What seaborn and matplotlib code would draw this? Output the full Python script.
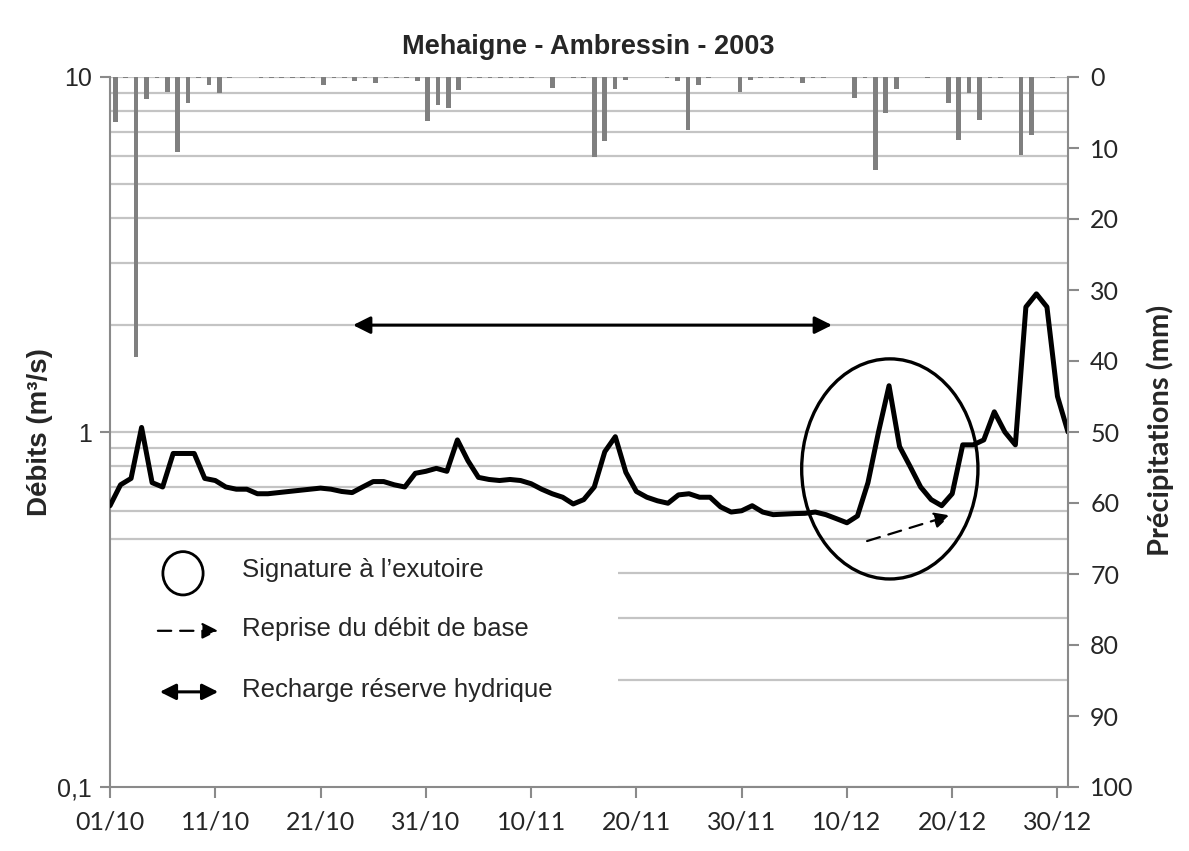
import numpy as np
import pandas as pd
import matplotlib
matplotlib.use('Agg')
import matplotlib.pyplot as plt
import matplotlib.dates as mdates
from matplotlib.patches import Ellipse, Rectangle
from matplotlib.ticker import LogLocator, NullFormatter, FixedLocator
import seaborn as sns

# Daily series 01/10/2003 -> 31/12/2003
dates = pd.date_range('2003-10-01', '2003-12-31', freq='D')

# Discharge at Ambressin (m3/s)
discharge = [0.62, 0.71, 0.74, 1.03, 0.72, 0.70, 0.87, 0.87, 0.87, 0.74,
             0.73, 0.70, 0.69, 0.69, 0.67, 0.67, 0.675, 0.68, 0.685, 0.69,
             0.695, 0.69, 0.68, 0.675, 0.70, 0.725, 0.725, 0.71, 0.70, 0.765,
             0.775, 0.79, 0.775, 0.95, 0.83, 0.745, 0.735, 0.73, 0.735, 0.73,
             0.715, 0.69, 0.67, 0.655, 0.627, 0.645, 0.70, 0.88, 0.97, 0.77,
             0.68, 0.655, 0.64, 0.63, 0.665, 0.67, 0.655, 0.655, 0.615, 0.595,
             0.60, 0.62, 0.595, 0.585, 0.587, 0.589, 0.59, 0.595, 0.585, 0.57,
             0.555, 0.58, 0.72, 1.0, 1.35, 0.91, 0.80, 0.70, 0.645, 0.62,
             0.67, 0.92, 0.92, 0.95, 1.14, 1.0, 0.92, 2.25, 2.45, 2.25,
             1.26, 1.0]

# Daily precipitation (mm)
precip = [6.3, 0.2, 39.4, 3.1, 0.2, 2.1, 10.5, 3.7, 0.2, 1.1,
          2.3, 0.2, 0, 0, 0.2, 0.2, 0.2, 0.2, 0.2, 0.2,
          1.1, 0.2, 0.2, 0.5, 0.2, 0.8, 0.2, 0.2, 0.2, 0.5,
          6.2, 3.9, 4.3, 1.8, 0.2, 0.2, 0.2, 0.2, 0.2, 0.2,
          0.2, 0, 1.5, 0, 0.2, 0.2, 11.2, 9.0, 1.7, 0.4,
          0, 0, 0, 0.2, 0.5, 7.5, 1.1, 0.2, 0, 0,
          2.1, 0.4, 0.2, 0.2, 0.2, 0.2, 0.8, 0.2, 0.2, 0,
          0, 2.9, 0.2, 13.1, 5.0, 1.7, 0, 0, 0.2, 0,
          3.6, 8.9, 2.3, 6.0, 0.2, 0.2, 0, 11.0, 8.2, 0,
          0.2, 0]

tick_dates = pd.date_range('2003-10-01', periods=10, freq='10D')
left_ticks = [0.1, 1, 10]
left_labels = ['0,1', '1', '10']
right_ticks = list(range(0, 101, 10))

title = 'Mehaigne - Ambressin - 2003'
legend_labels = ['Signature à l\u2019exutoire', 'Reprise du débit de base', 'Recharge réserve hydrique']

sns.set_style('white')
plt.rcParams['font.family'] = ['Liberation Sans', 'DejaVu Sans']

GRAY = '#8a8a8a'
GRID = '#c4c4c4'

fig = plt.figure(figsize=(11.89, 8.51), dpi=100)
ax = fig.add_axes([110 / 1189, 1 - 787 / 851, 958 / 1189, 710 / 851])

df = pd.DataFrame({'date': dates, 'q': discharge})
sns.lineplot(data=df, x='date', y='q', ax=ax, color='black', linewidth=3.6, zorder=3)
for ln in ax.get_lines():
    ln.set_solid_joinstyle('round')
    ln.set_solid_capstyle('round')

ax.set_yscale('log')
ax.set_ylim(0.1, 10)
ax.set_yticks(left_ticks)
ax.set_yticklabels(left_labels)
ax.yaxis.set_minor_locator(LogLocator(base=10, subs=np.arange(2, 10)))
ax.yaxis.set_minor_formatter(NullFormatter())
ax.set_axisbelow(True)
ax.grid(axis='y', which='both', color=GRID, linewidth=1.6)
ax.grid(axis='x', visible=False)
ax.set_xlim(dates[0], dates[-1])
ax.xaxis.set_major_locator(FixedLocator(mdates.date2num(tick_dates)))
ax.xaxis.set_major_formatter(mdates.DateFormatter('%d/%m'))
ax.set_xlabel('')
ax.set_ylabel('')
ax.tick_params(axis='y', which='major', left=True, length=7, width=1.5, color=GRAY,
               labelsize=18, pad=6)
ax.tick_params(axis='y', which='minor', length=0)
ax.tick_params(axis='x', bottom=True, length=8, width=1.5, color=GRAY,
               labelsize=18, labelfontfamily='Lato', pad=9)
for s in ['top', 'right']:
    ax.spines[s].set_visible(False)
for s in ['left', 'bottom']:
    ax.spines[s].set_color(GRAY)
    ax.spines[s].set_linewidth(1.5)

# legend area masks the grid
ax.add_patch(Rectangle((0, 0), 0.530, 0.338, transform=ax.transAxes,
                       facecolor='white', edgecolor='none', zorder=1.5))

# precipitation bars on a secondary category axis, hanging from the top
ax2 = fig.add_axes(ax.get_position())
ax2.patch.set_visible(False)
pdf = pd.DataFrame({'day': np.arange(len(precip)), 'p': precip})
sns.barplot(data=pdf, x='day', y='p', ax=ax2, color='#7f7f7f', saturation=1,
            width=0.45, linewidth=0)
ax2.set_ylim(100, 0)
ax2.set_xlim(-0.5, len(precip) - 0.5)
ax2.xaxis.set_visible(False)
ax2.yaxis.tick_right()
ax2.set_yticks(right_ticks)
ax2.set_ylabel('')
ax2.tick_params(axis='y', right=True, length=8, width=1.5, color=GRAY,
                labelsize=18, labelfontfamily='Lato', pad=8)
for s in ['top', 'left', 'bottom']:
    ax2.spines[s].set_visible(False)
ax2.spines['right'].set_color(GRAY)
ax2.spines['right'].set_linewidth(1.5)

# annotations on the hydrograph
ax.annotate('', xy=(pd.Timestamp('2003-12-08 14:00'), 2.0),
            xytext=(pd.Timestamp('2003-10-24 02:00'), 2.0),
            arrowprops=dict(arrowstyle='<|-|>', color='black', lw=2.2,
                            mutation_scale=26, shrinkA=0, shrinkB=0), zorder=4)
ax.annotate('', xy=(pd.Timestamp('2003-12-19 20:00'), 0.582),
            xytext=(pd.Timestamp('2003-12-11 22:00'), 0.493),
            arrowprops=dict(arrowstyle='-|>', color='black', lw=1.6, linestyle=(0, (6, 4)),
                            mutation_scale=24, shrinkA=0, shrinkB=0), zorder=4)
ax.add_patch(Ellipse((0.814, 0.448), 0.184, 0.310, transform=ax.transAxes,
                     fill=False, edgecolor='black', linewidth=2.4, zorder=4))

# hand-made legend
ax.add_patch(Ellipse((0.0762, 0.301), 0.042, 0.061, transform=ax.transAxes,
                     fill=False, edgecolor='black', linewidth=2.0, zorder=4))
ax.annotate('', xy=(0.113, 0.220), xytext=(0.050, 0.220), xycoords='axes fraction',
            arrowprops=dict(arrowstyle='-|>', color='black', lw=1.6, linestyle=(0, (6, 4)),
                            mutation_scale=24, shrinkA=0, shrinkB=0), zorder=4)
ax.annotate('', xy=(0.113, 0.134), xytext=(0.052, 0.134), xycoords='axes fraction',
            arrowprops=dict(arrowstyle='<|-|>', color='black', lw=2.2,
                            mutation_scale=24, shrinkA=0, shrinkB=0), zorder=4)
for yy, txt in zip([0.306, 0.222, 0.137], legend_labels):
    ax.text(0.138, yy, txt, transform=ax.transAxes, fontsize=18.5, va='center',
            ha='left', zorder=4)

fig.text(0.495, 1 - 47 / 851, title, ha='center', va='center', fontsize=19.5,
         fontweight='bold')
fig.text(40 / 1189, 1 - 432 / 851, 'Débits (m³/s)', rotation=90, ha='center',
         va='center', fontsize=20, fontweight='bold')
fig.text(1160 / 1189, 1 - 430 / 851, 'Précipitations (mm)', rotation=90, ha='center',
         va='center', fontsize=21, fontweight='bold', family='Lato')

fig.savefig('out.png', dpi=100, facecolor='white')
